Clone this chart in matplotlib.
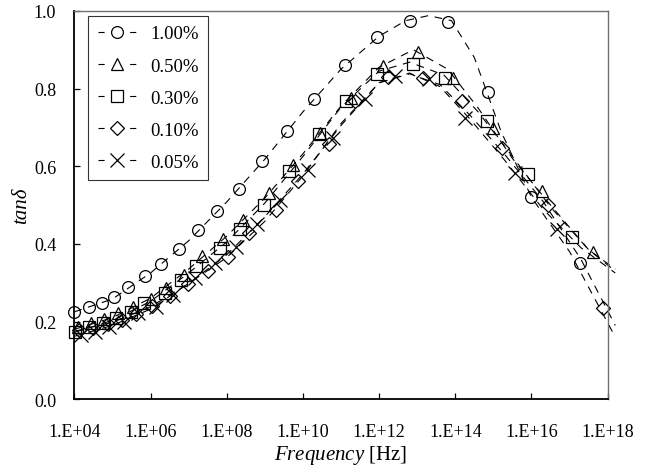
import numpy as np
import matplotlib
matplotlib.use("Agg")
import matplotlib.pyplot as plt

plt.rcParams['font.family'] = ['Liberation Serif', 'DejaVu Serif']
plt.rcParams['mathtext.fontset'] = 'custom'
plt.rcParams['mathtext.rm'] = 'Liberation Serif'
plt.rcParams['mathtext.it'] = 'Liberation Serif:italic'

# marker data: log10(frequency) and tan delta
c100_logf = [4.00, 4.38, 4.72, 5.05, 5.42, 5.86, 6.28, 6.74, 7.24, 7.75, 8.33, 8.92,
             9.58, 10.30, 11.10, 11.94, 12.80, 13.81, 14.86, 16.00, 17.27]
c100_tan = [0.225, 0.237, 0.247, 0.263, 0.288, 0.318, 0.348, 0.387, 0.435, 0.484, 0.542, 0.613,
            0.692, 0.772, 0.860, 0.932, 0.975, 0.972, 0.791, 0.522, 0.352]

c050_logf = [4.09, 4.44, 4.79, 5.14, 5.53, 6.00, 6.41, 6.87, 7.35, 7.90, 8.43, 9.10,
             9.74, 10.44, 11.25, 12.09, 13.03, 13.94, 14.99, 16.28, 17.61]
c050_tan = [0.187, 0.195, 0.206, 0.221, 0.238, 0.257, 0.286, 0.320, 0.368, 0.412, 0.462, 0.530,
            0.604, 0.686, 0.777, 0.857, 0.895, 0.828, 0.699, 0.535, 0.380]

c030_logf = [4.03, 4.39, 4.74, 5.10, 5.49, 5.84, 6.37, 6.80, 7.20, 7.83, 8.36, 8.97,
             9.64, 10.42, 11.12, 11.95, 12.88, 13.73, 14.83, 15.90, 17.06]
c030_tan = [0.174, 0.185, 0.195, 0.208, 0.225, 0.247, 0.273, 0.307, 0.342, 0.389, 0.439, 0.501,
            0.587, 0.684, 0.768, 0.837, 0.863, 0.828, 0.716, 0.579, 0.418]

c010_logf = [4.13, 4.50, 4.88, 5.25, 5.63, 6.05, 6.50, 6.98, 7.50, 8.03, 8.58, 9.29,
             9.88, 10.69, 11.37, 12.24, 13.14, 14.17, 15.23, 16.43, 17.89]
c010_tan = [0.178, 0.183, 0.193, 0.205, 0.220, 0.240, 0.265, 0.296, 0.330, 0.367, 0.428, 0.488,
            0.561, 0.656, 0.768, 0.831, 0.826, 0.768, 0.648, 0.501, 0.234]

c005_logf = [4.18, 4.53, 4.92, 5.30, 5.66, 6.15, 6.58, 7.16, 7.70, 8.25, 8.80, 9.39,
             10.14, 10.79, 11.63, 12.42, 13.30, 14.26, 15.58, 16.67]
c005_tan = [0.165, 0.174, 0.187, 0.200, 0.221, 0.238, 0.268, 0.312, 0.350, 0.393, 0.450, 0.514,
            0.591, 0.673, 0.772, 0.833, 0.824, 0.725, 0.583, 0.438]

# dashed fitted curves
f100_logf = [4.0, 5.0, 6.0, 7.0, 8.0, 9.0, 10.0, 11.0, 12.0, 12.7, 13.3, 13.9, 14.5, 15.2, 16.0, 17.0, 18.2]
f100_tan = [0.225, 0.258, 0.325, 0.408, 0.508, 0.618, 0.740, 0.850, 0.935, 0.975, 0.988, 0.975,
            0.880, 0.690, 0.520, 0.380, 0.160]

f050_logf = [4.0, 5.0, 6.0, 7.0, 8.0, 9.0, 10.0, 11.0, 12.0, 12.9, 13.8, 14.6, 15.5, 16.5, 17.5, 18.2]
f050_tan = [0.180, 0.210, 0.260, 0.335, 0.420, 0.518, 0.632, 0.755, 0.855, 0.900, 0.850, 0.750,
            0.620, 0.500, 0.385, 0.330]

f030_logf = [4.0, 5.0, 6.0, 7.0, 8.0, 9.0, 10.0, 11.0, 12.0, 12.8, 13.7, 14.6, 15.5, 16.5, 17.5, 18.2]
f030_tan = [0.172, 0.203, 0.252, 0.325, 0.405, 0.505, 0.625, 0.752, 0.845, 0.868, 0.835, 0.740,
            0.625, 0.495, 0.385, 0.335]

f010_logf = [4.0, 5.0, 6.0, 7.0, 8.0, 9.0, 10.0, 11.0, 12.0, 12.8, 13.6, 14.4, 15.3, 16.3, 17.3, 18.2]
f010_tan = [0.175, 0.198, 0.238, 0.298, 0.365, 0.458, 0.575, 0.710, 0.815, 0.838, 0.810, 0.730,
            0.630, 0.510, 0.360, 0.190]

f005_logf = [4.0, 5.0, 6.0, 7.0, 8.0, 9.0, 10.0, 11.0, 12.0, 12.8, 13.6, 14.4, 15.3, 16.3, 17.3, 18.2]
f005_tan = [0.162, 0.190, 0.232, 0.298, 0.372, 0.470, 0.580, 0.705, 0.815, 0.840, 0.805, 0.720,
            0.615, 0.490, 0.390, 0.325]

labels = ['1.00%', '0.50%', '0.30%', '0.10%', '0.05%']
markers = ['o', '^', 's', 'D', 'x']
msizes = [8.5, 9, 9, 7, 10.5]

x_ticks = [4, 6, 8, 10, 12, 14, 16, 18]
x_ticklabels = ['1.E+04', '1.E+06', '1.E+08', '1.E+10', '1.E+12', '1.E+14', '1.E+16', '1.E+18']
y_ticks = [0.0, 0.2, 0.4, 0.6, 0.8, 1.0]


def main():
    fig = plt.figure(figsize=(6.52, 4.77), dpi=100)
    ax = fig.add_axes([0.114, 0.161, 0.818, 0.814])

    pts = [(c100_logf, c100_tan), (c050_logf, c050_tan), (c030_logf, c030_tan),
           (c010_logf, c010_tan), (c005_logf, c005_tan)]
    fits = [(f100_logf, f100_tan), (f050_logf, f050_tan), (f030_logf, f030_tan),
            (f010_logf, f010_tan), (f005_logf, f005_tan)]

    for (px, py), (fx, fy), lab, m, ms in zip(pts, fits, labels, markers, msizes):
        ax.plot(10.0 ** np.array(fx), fy, color='black', lw=0.8, ls=(0, (7, 6)), clip_on=False)
        ax.plot(10.0 ** np.array(px), py, ls='none', marker=m, ms=ms, mfc='none',
                mec='black', mew=0.9, clip_on=False)
        # legend proxy: short dash on each side of the marker
        ax.plot([], [], color='black', lw=0.8, ls=(0, (5.5, 23)), marker=m, ms=ms,
                mfc='none', mec='black', mew=0.9, label=lab)

    ax.set_xscale('log')
    ax.set_xlim(1e4, 1e18)
    ax.set_ylim(0, 1.0)
    ax.set_xticks([10.0 ** t for t in x_ticks])
    ax.set_xticklabels(x_ticklabels)
    ax.minorticks_off()
    ax.set_yticks(y_ticks)
    ax.set_yticklabels(['%.1f' % v for v in y_ticks])
    ax.tick_params(direction='in', length=4, width=0.9, labelsize=13)
    ax.tick_params(axis='x', pad=17)
    ax.tick_params(axis='y', pad=13)
    for side in ['left', 'bottom']:
        ax.spines[side].set_linewidth(1.3)
        ax.spines[side].set_color('black')
    for side in ['top', 'right']:
        ax.spines[side].set_linewidth(1.0)
        ax.spines[side].set_color('#707070')

    ax.set_xlabel(r'$\mathit{Frequency}$ [Hz]', fontsize=15, labelpad=2)
    ax.set_ylabel('tanδ', fontstyle='italic', fontsize=15, labelpad=2)

    leg = ax.legend(loc='upper left', bbox_to_anchor=(0.026, 0.987), borderaxespad=0,
                    fontsize=13.5, frameon=True, fancybox=False, handlelength=2.1,
                    numpoints=1, labelspacing=0.8, borderpad=0.5, handletextpad=0.7)
    leg.get_frame().set_edgecolor('black')
    leg.get_frame().set_linewidth(0.8)

    fig.savefig('out.png', dpi=100)


if __name__ == '__main__':
    main()
